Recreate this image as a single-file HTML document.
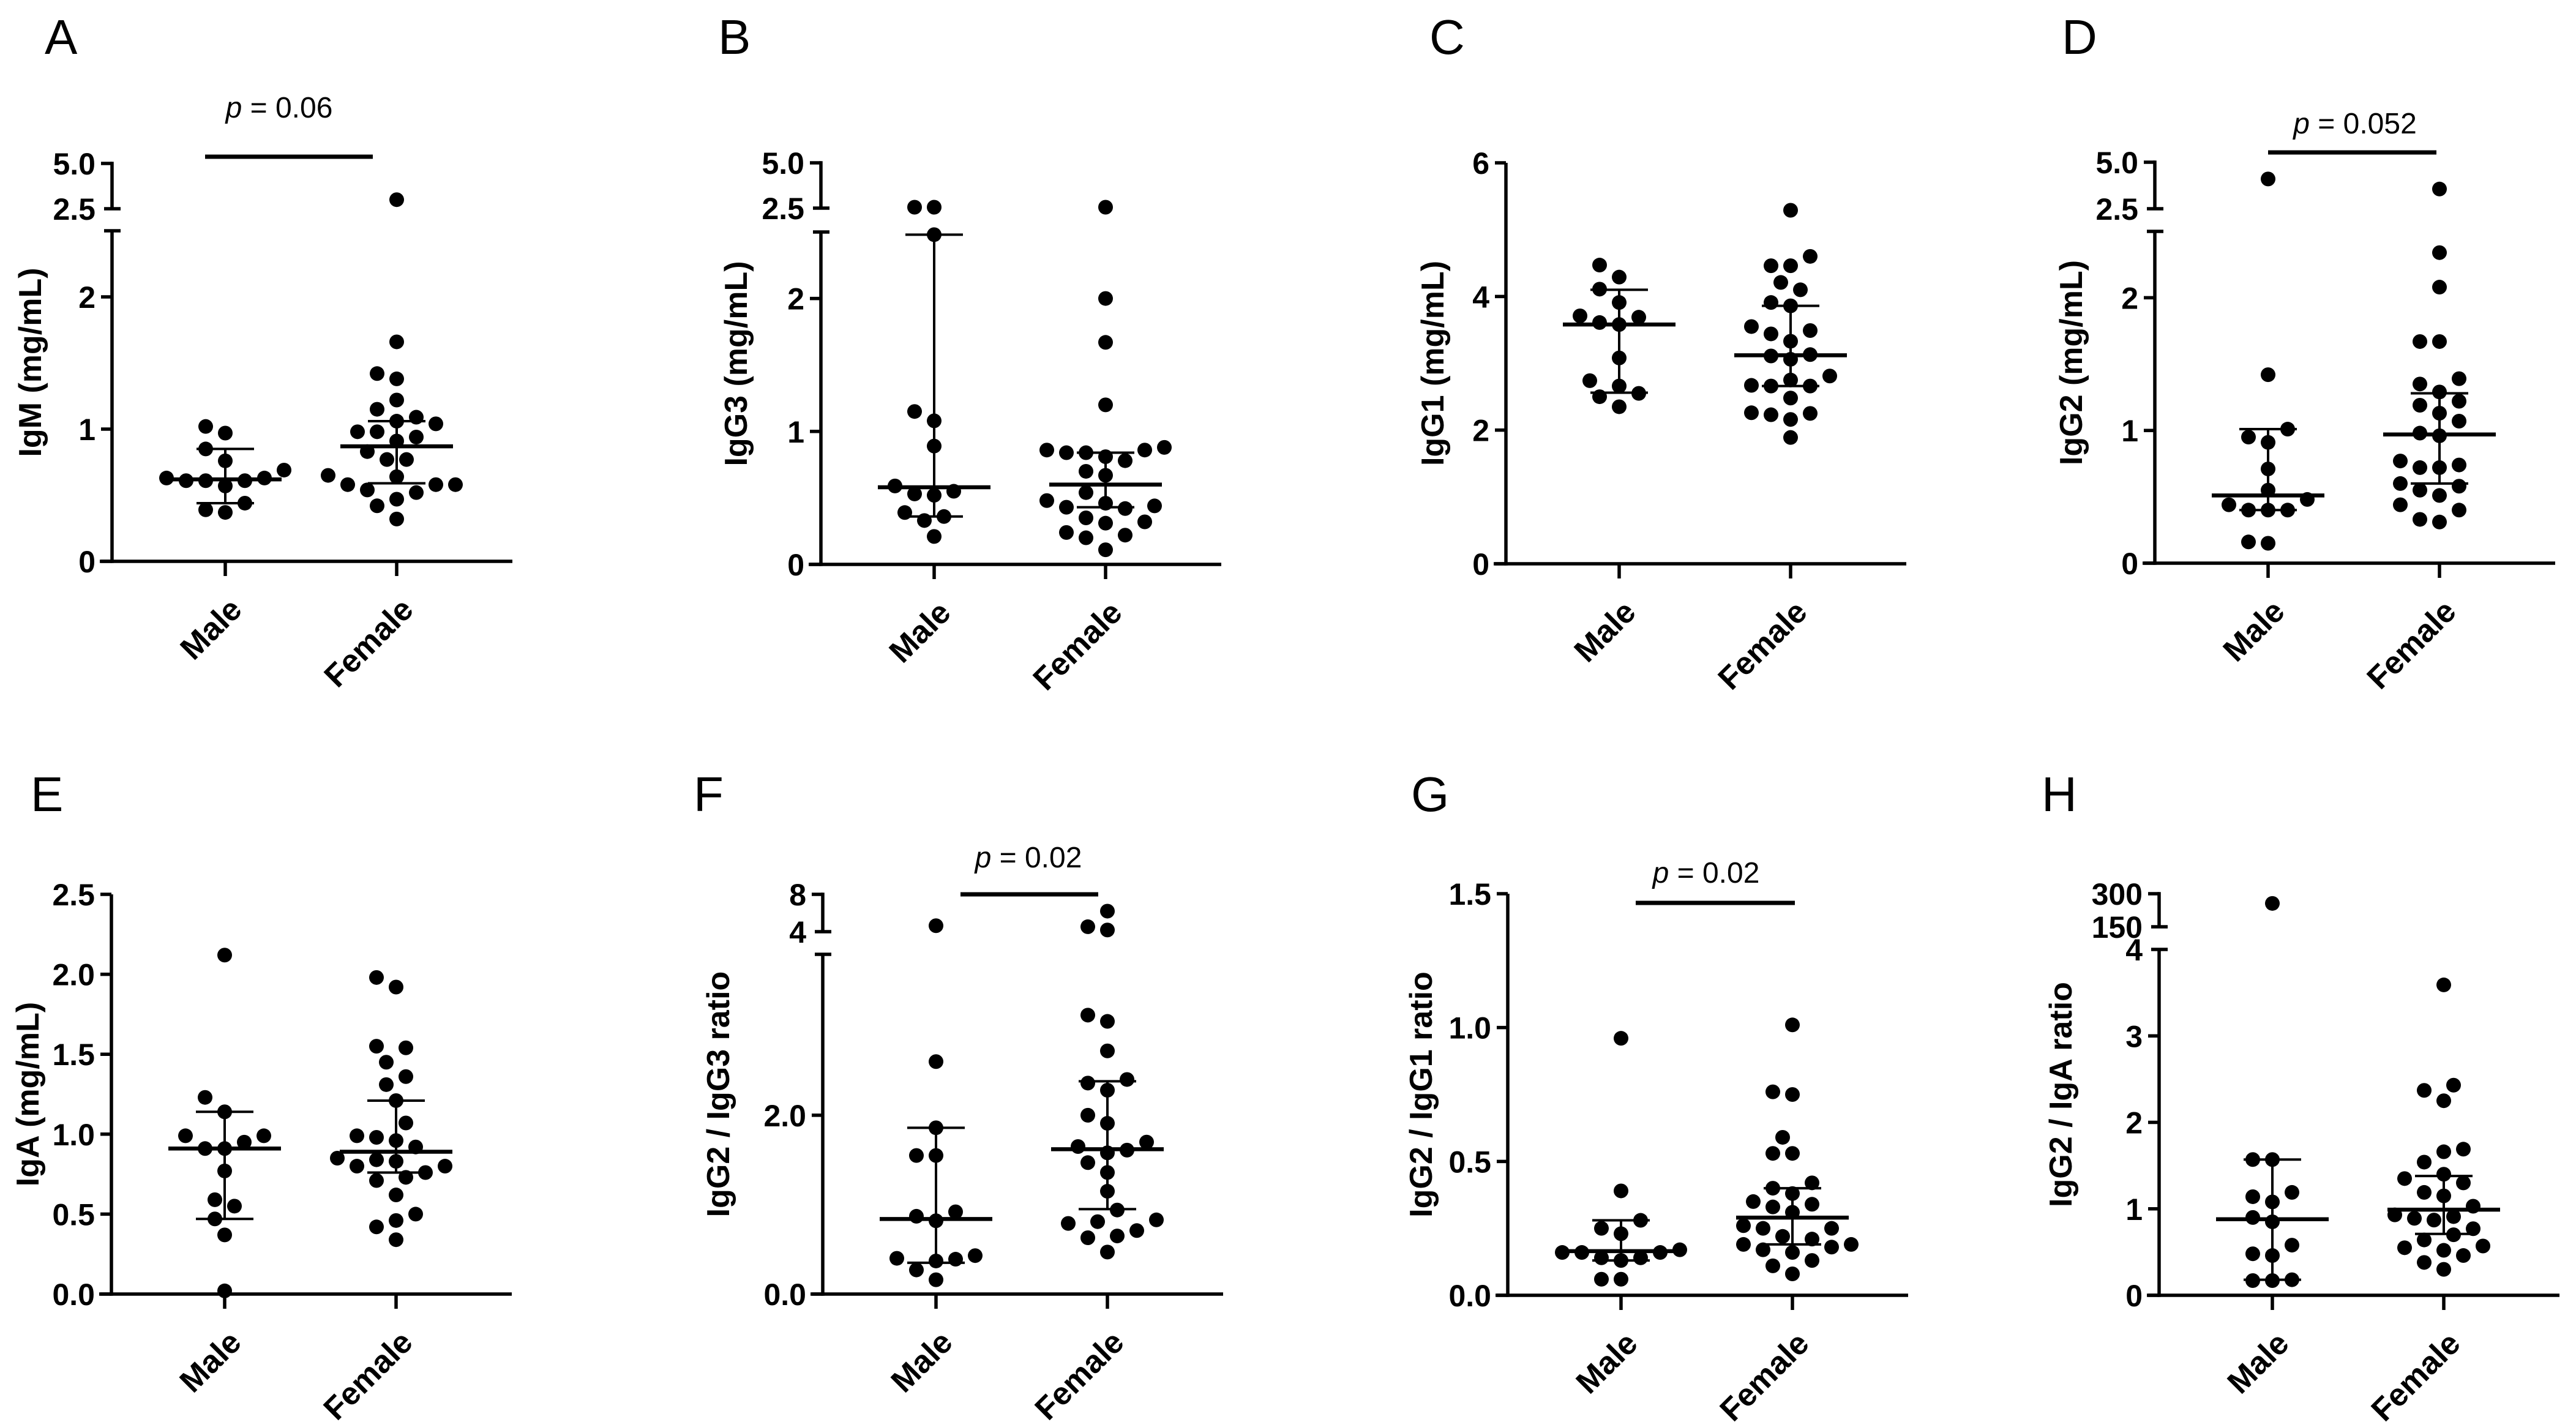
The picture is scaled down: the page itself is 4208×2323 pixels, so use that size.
<!DOCTYPE html>
<html><head><meta charset="utf-8"><style>
html,body{margin:0;padding:0;background:#fff}
svg{display:block}
text{font-family:"Liberation Sans",Arial,sans-serif;fill:#000}
</style></head><body>
<svg id="fig" width="4208" height="2323" viewBox="0 0 4208 2323" xmlns="http://www.w3.org/2000/svg"></svg>
<script>
// ---- Data ----
const categories = ["Male", "Female"];
const aMale = [1.02,0.97,0.85,0.76,0.69,0.63,0.61,0.61,0.61,0.63,0.57,0.44,0.37,0.39];
const aFemale = [3.0,1.66,1.42,1.38,1.22,1.15,1.04,1.09,1.06,0.98,0.98,0.94,0.91,0.83,0.77,0.77,0.64,0.65,0.58,0.58,0.54,0.58,0.52,0.47,0.42,0.32];
const aStats = [[0.62,0.44,0.85],[0.87,0.59,1.06]];
const bMale = [2.55,2.55,2.48,1.15,1.08,0.89,0.55,0.59,0.52,0.53,0.39,0.36,0.33,0.21];
const bFemale = [2.55,2.0,1.67,1.2,0.84,0.86,0.84,0.86,0.88,0.78,0.81,0.70,0.67,0.54,0.48,0.46,0.44,0.42,0.43,0.35,0.32,0.31,0.24,0.22,0.20,0.11];
const bStats = [[0.58,0.36,2.48],[0.60,0.43,0.84]];
const cMale = [4.47,4.29,4.11,3.91,3.69,3.71,3.58,3.61,3.08,2.66,2.74,2.50,2.55,2.35];
const cFemale = [5.29,4.60,4.46,4.46,4.21,4.10,3.86,3.91,3.55,3.49,3.44,3.33,3.11,3.06,3.13,2.81,2.66,2.66,2.75,2.67,2.48,2.26,2.23,2.25,2.16,1.89];
const cStats = [[3.58,2.56,4.10],[3.12,2.66,3.86]];
const dMale = [4.1,1.42,1.01,0.95,0.91,0.71,0.55,0.48,0.44,0.40,0.40,0.40,0.15,0.16];
const dFemale = [3.56,2.34,2.08,1.67,1.67,1.39,1.35,1.29,1.22,1.19,1.07,1.13,0.98,0.96,0.72,0.72,0.74,0.77,0.60,0.58,0.55,0.51,0.44,0.40,0.31,0.33];
const dStats = [[0.51,0.40,1.01],[0.97,0.60,1.28]];
const eMale = [2.12,1.23,1.14,0.99,0.99,0.95,0.91,0.91,0.77,0.59,0.55,0.47,0.37,0.02];
const eFemale = [1.98,1.92,1.55,1.54,1.45,1.36,1.31,1.21,1.07,0.98,0.96,0.99,0.92,0.84,0.80,0.83,0.85,0.80,0.76,0.73,0.71,0.62,0.50,0.46,0.42,0.34];
const eStats = [[0.91,0.47,1.14],[0.89,0.76,1.21]];
const fMale = [4.64,2.60,1.86,1.55,1.55,0.92,0.82,0.87,0.43,0.37,0.40,0.39,0.27,0.16];
const fFemale = [6.2,4.18,4.53,3.12,3.05,2.72,2.40,2.36,2.28,2.00,1.91,1.70,1.65,1.61,1.58,1.47,1.36,1.15,0.94,0.83,0.81,0.79,0.71,0.65,0.63,0.47];
const fStats = [[0.84,0.35,1.86],[1.62,0.95,2.38]];
const gMale = [0.96,0.39,0.28,0.25,0.23,0.16,0.17,0.16,0.16,0.13,0.14,0.14,0.06,0.06];
const gFemale = [1.01,0.76,0.75,0.59,0.53,0.53,0.42,0.40,0.38,0.35,0.34,0.33,0.31,0.25,0.26,0.25,0.21,0.22,0.19,0.19,0.18,0.17,0.16,0.13,0.11,0.08];
const gStats = [[0.165,0.13,0.28],[0.29,0.19,0.40]];
const hMale = [256,1.57,1.57,1.19,1.08,1.14,0.85,0.90,0.58,0.46,0.48,0.17,0.18,0.17];
const hFemale = [3.59,2.43,2.37,2.25,1.66,1.69,1.54,1.35,1.40,1.30,1.15,1.19,1.03,0.89,0.91,0.93,0.87,0.77,0.70,0.64,0.57,0.55,0.52,0.46,0.38,0.30];
const hStats = [[0.88,0.18,1.57],[0.99,0.71,1.38]];
const lowTicksA = [0,1,2], lowTickLabelsA = ["0","1","2"], upTicksA = [2.5,5.0], upTickLabelsA = ["2.5","5.0"];
const lowTicksB = [0,1,2], lowTickLabelsB = ["0","1","2"], upTicksB = [2.5,5.0], upTickLabelsB = ["2.5","5.0"];
const lowTicksC = [0,2,4,6], lowTickLabelsC = ["0","2","4","6"];
const lowTicksD = [0,1,2], lowTickLabelsD = ["0","1","2"], upTicksD = [2.5,5.0], upTickLabelsD = ["2.5","5.0"];
const lowTicksE = [0,0.5,1,1.5,2,2.5], lowTickLabelsE = ["0.0","0.5","1.0","1.5","2.0","2.5"];
const lowTicksF = [0,2], lowTickLabelsF = ["0.0","2.0"], upTicksF = [4,8], upTickLabelsF = ["4","8"];
const lowTicksG = [0,0.5,1,1.5], lowTickLabelsG = ["0.0","0.5","1.0","1.5"];
const lowTicksH = [0,1,2,3,4], lowTickLabelsH = ["0","1","2","3","4"], upTicksH = [150,300], upTickLabelsH = ["150","300"];

// ---- Layout ----
const panels = [
 {id:"a",letter:"A",lx:73,ly:88,ax:183,zero:917,lowMax:2.5,lowTopY:377,upMin:2.5,upMax:5.0,upMinY:341,upMaxY:267,
  low:lowTicksA,lowL:lowTickLabelsA,up:upTicksA,upL:upTickLabelsA,male:aMale,female:aFemale,stats:aStats,title:"IgM (mg/mL)",tx:134,
  sig:{x1:335,x2:609,y:256,tx:456,ty:192,p:"0.06"}},
 {id:"b",letter:"B",lx:1173,ly:88,ax:1341,zero:922,lowMax:2.5,lowTopY:379,upMin:2.5,upMax:5.0,upMinY:340,upMaxY:266,
  low:lowTicksB,lowL:lowTickLabelsB,up:upTicksB,upL:upTickLabelsB,male:bMale,female:bFemale,stats:bStats,title:"IgG3 (mg/mL)",tx:139},
 {id:"c",letter:"C",lx:2335,ly:88,ax:2460,zero:921,lowMax:6,lowTopY:266,
  low:lowTicksC,lowL:lowTickLabelsC,male:cMale,female:cFemale,stats:cStats,title:"IgG1 (mg/mL)",tx:120,noCap:true},
 {id:"d",letter:"D",lx:3368,ly:88,ax:3520,zero:920,lowMax:2.5,lowTopY:378,upMin:2.5,upMax:5.0,upMinY:341,upMaxY:265,
  low:lowTicksD,lowL:lowTickLabelsD,up:upTicksD,upL:upTickLabelsD,male:dMale,female:dFemale,stats:dStats,title:"IgG2 (mg/mL)",tx:137,
  sig:{x1:3705,x2:3980,y:249,tx:3847,ty:218,p:"0.052"}},
 {id:"e",letter:"E",lx:50,ly:1325,ax:182,zero:2114,lowMax:2.5,lowTopY:1461,
  low:lowTicksE,lowL:lowTickLabelsE,male:eMale,female:eFemale,stats:eStats,title:"IgA (mg/mL)",tx:137,noCap:true},
 {id:"f",letter:"F",lx:1133,ly:1325,ax:1344,zero:2114,lowMax:3.8,lowTopY:1559,upMin:4,upMax:8,upMinY:1522,upMaxY:1461,
  low:lowTicksF,lowL:lowTickLabelsF,up:upTicksF,upL:upTickLabelsF,male:fMale,female:fFemale,stats:fStats,title:"IgG2 / IgG3 ratio",tx:171,
  sig:{x1:1569,x2:1794,y:1461,tx:1680,ty:1417,p:"0.02"}},
 {id:"g",letter:"G",lx:2305,ly:1325,ax:2463,zero:2116,lowMax:1.5,lowTopY:1460,
  low:lowTicksG,lowL:lowTickLabelsG,male:gMale,female:gFemale,stats:gStats,title:"IgG2 / IgG1 ratio",tx:142,noCap:true,
  sig:{x1:2672,x2:2932,y:1475,tx:2787,ty:1442,p:"0.02"}},
 {id:"h",letter:"H",lx:3335,ly:1325,ax:3527,zero:2116,lowMax:4,lowTopY:1551,upMin:150,upMax:300,upMinY:1514,upMaxY:1460,
  low:lowTicksH,lowL:lowTickLabelsH,up:upTicksH,upL:upTickLabelsH,male:hMale,female:hFemale,stats:hStats,title:"IgG2 / IgA ratio",tx:161}
];

const NS = "http://www.w3.org/2000/svg";
const svg = document.getElementById("fig");
const R = 12, SW = 5.5;
function mk(tag, attrs, parent){
  const e = document.createElementNS(NS, tag);
  for (const k in attrs) e.setAttribute(k, attrs[k]);
  parent.appendChild(e);
  return e;
}
function line(g, x1,y1,x2,y2,w){ return mk("line",{x1:x1,y1:y1,x2:x2,y2:y2,stroke:"#000","stroke-width":w},g); }

panels.forEach(p => {
  const upScale = v => p.upMinY + (v - p.upMin) / (p.upMax - p.upMin) * (p.upMaxY - p.upMinY);
  const lowScale = v => p.zero + v / p.lowMax * (p.lowTopY - p.zero);
  const yScale = v => (p.up && v > p.lowMax) ? upScale(v) : lowScale(v);
  const xMale = p.ax + 185, xFemale = p.ax + 465;
  const catX = [xMale, xFemale];
  const g = mk("g", {}, svg);
  
  

  const lt = mk("text",{x:p.lx,y:p.ly,"font-size":80},g);
  lt.textContent = p.letter;
  
  

  const ya = mk("g",{},g);
  
  
  line(ya, p.ax, p.zero + SW/2, p.ax, p.lowTopY, SW);
  if (!p.noCap) line(ya, p.ax - 13, p.lowTopY, p.ax + 14, p.lowTopY, SW);
  p.low.forEach((t, i) => {
    const y = lowScale(t);
    if (!(p.noCap === undefined && t === p.lowMax)) line(ya, p.ax - 18, y, p.ax, y, SW);
    const tx = mk("text",{x:p.ax - 27, y:y + 18, "font-size":50, "font-weight":"bold","text-anchor":"end"},ya);
    tx.textContent = p.lowL[i];
    
    
  });
  if (p.up) {
    line(ya, p.ax, p.upMinY, p.ax, p.upMaxY - SW/2, SW);
    line(ya, p.ax - 13, p.upMinY, p.ax + 14, p.upMinY, SW);
    line(ya, p.ax - 18, p.upMaxY, p.ax, p.upMaxY, SW);
    p.up.forEach((t, i) => {
      const y = upScale(t);
      const tx = mk("text",{x:p.ax - 27, y:y + 18, "font-size":50, "font-weight":"bold","text-anchor":"end"},ya);
      tx.textContent = p.upL[i];
      
      
    });
  }
  const topY = p.up ? p.upMaxY : p.lowTopY;
  const cy = (topY + p.zero) / 2, cx = p.ax - p.tx;
  const tt = mk("text",{x:0,y:0,"font-size":52,"font-weight":"bold","text-anchor":"middle",transform:`translate(${cx + 18},${cy}) rotate(-90)`},g);
  tt.textContent = p.title;
  
  

  const xa = mk("g",{},g);
  
  
  line(xa, p.ax - 20, p.zero, p.ax + 654, p.zero, SW);
  catX.forEach((x, i) => {
    line(xa, x, p.zero, x, p.zero + 24, SW);
    const tx = mk("text",{x:0,y:0,"font-size":52,"font-weight":"bold","text-anchor":"end",transform:`translate(${x + 30},${p.zero + 82}) rotate(-45)`},xa);
    tx.textContent = categories[i];
    
    
  });

  [p.male, p.female].forEach((vals, ci) => {
    const cxC = catX[ci];
    const order = vals.map((v, i) => i).sort((a, b) => vals[a] - vals[b]);
    const placed = [];
    order.forEach(i => {
      const y = yScale(vals[i]);
      let chosen = 0;
      for (let k = 0; k < 30; k++) {
        const off = (k % 2 === 0 ? 1 : -1) * Math.ceil(k / 2) * 16;
        const x = cxC + off;
        if (!placed.some(q => Math.hypot(q[0] - x, q[1] - y) < 2 * R + 5)) { chosen = off; break; }
      }
      placed.push([cxC + chosen, y]);
      const c = mk("circle",{cx:cxC + chosen, cy:y, r:R, fill:"#000"},g);
      
      
    });
    const st = p.stats[ci];
    const eg = mk("g",{},g);
    
    
    line(eg, cxC, yScale(st[1]), cxC, yScale(st[2]), 4);
    line(eg, cxC - 47, yScale(st[1]), cxC + 47, yScale(st[1]), 4);
    line(eg, cxC - 47, yScale(st[2]), cxC + 47, yScale(st[2]), 4);
    line(eg, cxC - 92, yScale(st[0]), cxC + 92, yScale(st[0]), 6.5);
  });

  if (p.sig) {
    const sb = line(g, p.sig.x1, p.sig.y, p.sig.x2, p.sig.y, 7);
    
    
    const st = mk("text",{x:p.sig.tx, y:p.sig.ty, "font-size":48, "text-anchor":"middle"},g);
    
    
    const it = mk("tspan",{"font-style":"italic"},st);
    it.textContent = "p";
    const rt = mk("tspan",{},st);
    rt.textContent = " = " + p.sig.p;
  }
});
</script>
</body></html>
